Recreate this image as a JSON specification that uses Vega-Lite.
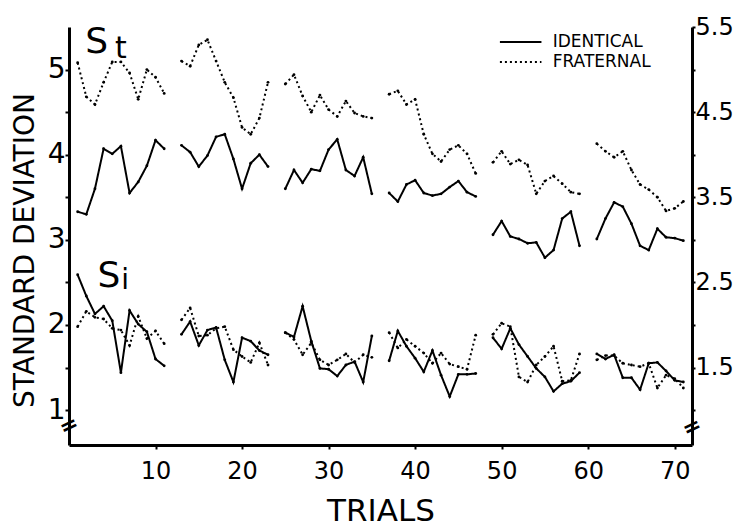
{
"$schema": "https://vega.github.io/schema/vega-lite/v6.json",
"width": 623, "height": 418,
"autosize": "none",
"padding": {"left": 69, "top": 27, "right": 44, "bottom": 81},
"background": "white",
"config": {"view": {"stroke": null}, "font": "DejaVu Sans",
 "axis": {"grid": false, "domainColor": "black", "domainWidth": 3, "tickColor": "black", "tickWidth": 2, "labelColor": "black", "titleColor": "black", "labelFont": "DejaVu Sans", "titleFont": "DejaVu Sans", "titleFontWeight": "normal"}},
"datasets": {"d": [
{"t":1,"b":1,"m":"St","g":"IDENTICAL","v":3.33},{"t":2,"b":1,"m":"St","g":"IDENTICAL","v":3.30},{"t":3,"b":1,"m":"St","g":"IDENTICAL","v":3.60},{"t":4,"b":1,"m":"St","g":"IDENTICAL","v":4.07},{"t":5,"b":1,"m":"St","g":"IDENTICAL","v":4.01},{"t":6,"b":1,"m":"St","g":"IDENTICAL","v":4.10},{"t":7,"b":1,"m":"St","g":"IDENTICAL","v":3.55},{"t":8,"b":1,"m":"St","g":"IDENTICAL","v":3.68},{"t":9,"b":1,"m":"St","g":"IDENTICAL","v":3.87},{"t":10,"b":1,"m":"St","g":"IDENTICAL","v":4.17},{"t":11,"b":1,"m":"St","g":"IDENTICAL","v":4.07},
{"t":13,"b":2,"m":"St","g":"IDENTICAL","v":4.11},{"t":14,"b":2,"m":"St","g":"IDENTICAL","v":4.03},{"t":15,"b":2,"m":"St","g":"IDENTICAL","v":3.86},{"t":16,"b":2,"m":"St","g":"IDENTICAL","v":3.99},{"t":17,"b":2,"m":"St","g":"IDENTICAL","v":4.21},{"t":18,"b":2,"m":"St","g":"IDENTICAL","v":4.24},{"t":19,"b":2,"m":"St","g":"IDENTICAL","v":3.95},{"t":20,"b":2,"m":"St","g":"IDENTICAL","v":3.60},{"t":21,"b":2,"m":"St","g":"IDENTICAL","v":3.90},{"t":22,"b":2,"m":"St","g":"IDENTICAL","v":4.00},{"t":23,"b":2,"m":"St","g":"IDENTICAL","v":3.86},
{"t":25,"b":3,"m":"St","g":"IDENTICAL","v":3.60},{"t":26,"b":3,"m":"St","g":"IDENTICAL","v":3.82},{"t":27,"b":3,"m":"St","g":"IDENTICAL","v":3.67},{"t":28,"b":3,"m":"St","g":"IDENTICAL","v":3.83},{"t":29,"b":3,"m":"St","g":"IDENTICAL","v":3.81},{"t":30,"b":3,"m":"St","g":"IDENTICAL","v":4.06},{"t":31,"b":3,"m":"St","g":"IDENTICAL","v":4.18},{"t":32,"b":3,"m":"St","g":"IDENTICAL","v":3.82},{"t":33,"b":3,"m":"St","g":"IDENTICAL","v":3.75},{"t":34,"b":3,"m":"St","g":"IDENTICAL","v":3.97},{"t":35,"b":3,"m":"St","g":"IDENTICAL","v":3.54},
{"t":37,"b":4,"m":"St","g":"IDENTICAL","v":3.55},{"t":38,"b":4,"m":"St","g":"IDENTICAL","v":3.45},{"t":39,"b":4,"m":"St","g":"IDENTICAL","v":3.65},{"t":40,"b":4,"m":"St","g":"IDENTICAL","v":3.70},{"t":41,"b":4,"m":"St","g":"IDENTICAL","v":3.55},{"t":42,"b":4,"m":"St","g":"IDENTICAL","v":3.52},{"t":43,"b":4,"m":"St","g":"IDENTICAL","v":3.54},{"t":44,"b":4,"m":"St","g":"IDENTICAL","v":3.62},{"t":45,"b":4,"m":"St","g":"IDENTICAL","v":3.69},{"t":46,"b":4,"m":"St","g":"IDENTICAL","v":3.56},{"t":47,"b":4,"m":"St","g":"IDENTICAL","v":3.51},
{"t":49,"b":5,"m":"St","g":"IDENTICAL","v":3.06},{"t":50,"b":5,"m":"St","g":"IDENTICAL","v":3.22},{"t":51,"b":5,"m":"St","g":"IDENTICAL","v":3.04},{"t":52,"b":5,"m":"St","g":"IDENTICAL","v":3.01},{"t":53,"b":5,"m":"St","g":"IDENTICAL","v":2.96},{"t":54,"b":5,"m":"St","g":"IDENTICAL","v":2.97},{"t":55,"b":5,"m":"St","g":"IDENTICAL","v":2.79},{"t":56,"b":5,"m":"St","g":"IDENTICAL","v":2.88},{"t":57,"b":5,"m":"St","g":"IDENTICAL","v":3.25},{"t":58,"b":5,"m":"St","g":"IDENTICAL","v":3.33},{"t":59,"b":5,"m":"St","g":"IDENTICAL","v":2.93},
{"t":61,"b":6,"m":"St","g":"IDENTICAL","v":3.01},{"t":62,"b":6,"m":"St","g":"IDENTICAL","v":3.25},{"t":63,"b":6,"m":"St","g":"IDENTICAL","v":3.44},{"t":64,"b":6,"m":"St","g":"IDENTICAL","v":3.39},{"t":65,"b":6,"m":"St","g":"IDENTICAL","v":3.19},{"t":66,"b":6,"m":"St","g":"IDENTICAL","v":2.93},{"t":67,"b":6,"m":"St","g":"IDENTICAL","v":2.88},{"t":68,"b":6,"m":"St","g":"IDENTICAL","v":3.13},{"t":69,"b":6,"m":"St","g":"IDENTICAL","v":3.03},{"t":70,"b":6,"m":"St","g":"IDENTICAL","v":3.02},{"t":71,"b":6,"m":"St","g":"IDENTICAL","v":2.99},
{"t":1,"b":1,"m":"St","g":"FRATERNAL","v":5.08},{"t":2,"b":1,"m":"St","g":"FRATERNAL","v":4.68},{"t":3,"b":1,"m":"St","g":"FRATERNAL","v":4.59},{"t":4,"b":1,"m":"St","g":"FRATERNAL","v":4.85},{"t":5,"b":1,"m":"St","g":"FRATERNAL","v":5.09},{"t":6,"b":1,"m":"St","g":"FRATERNAL","v":5.09},{"t":7,"b":1,"m":"St","g":"FRATERNAL","v":4.96},{"t":8,"b":1,"m":"St","g":"FRATERNAL","v":4.65},{"t":9,"b":1,"m":"St","g":"FRATERNAL","v":5.00},{"t":10,"b":1,"m":"St","g":"FRATERNAL","v":4.91},{"t":11,"b":1,"m":"St","g":"FRATERNAL","v":4.72},
{"t":13,"b":2,"m":"St","g":"FRATERNAL","v":5.10},{"t":14,"b":2,"m":"St","g":"FRATERNAL","v":5.04},{"t":15,"b":2,"m":"St","g":"FRATERNAL","v":5.29},{"t":16,"b":2,"m":"St","g":"FRATERNAL","v":5.35},{"t":17,"b":2,"m":"St","g":"FRATERNAL","v":5.10},{"t":18,"b":2,"m":"St","g":"FRATERNAL","v":4.85},{"t":19,"b":2,"m":"St","g":"FRATERNAL","v":4.67},{"t":20,"b":2,"m":"St","g":"FRATERNAL","v":4.32},{"t":21,"b":2,"m":"St","g":"FRATERNAL","v":4.24},{"t":22,"b":2,"m":"St","g":"FRATERNAL","v":4.43},{"t":23,"b":2,"m":"St","g":"FRATERNAL","v":4.85},
{"t":25,"b":3,"m":"St","g":"FRATERNAL","v":4.83},{"t":26,"b":3,"m":"St","g":"FRATERNAL","v":4.94},{"t":27,"b":3,"m":"St","g":"FRATERNAL","v":4.69},{"t":28,"b":3,"m":"St","g":"FRATERNAL","v":4.50},{"t":29,"b":3,"m":"St","g":"FRATERNAL","v":4.70},{"t":30,"b":3,"m":"St","g":"FRATERNAL","v":4.53},{"t":31,"b":3,"m":"St","g":"FRATERNAL","v":4.45},{"t":32,"b":3,"m":"St","g":"FRATERNAL","v":4.63},{"t":33,"b":3,"m":"St","g":"FRATERNAL","v":4.49},{"t":34,"b":3,"m":"St","g":"FRATERNAL","v":4.45},{"t":35,"b":3,"m":"St","g":"FRATERNAL","v":4.43},
{"t":37,"b":4,"m":"St","g":"FRATERNAL","v":4.71},{"t":38,"b":4,"m":"St","g":"FRATERNAL","v":4.75},{"t":39,"b":4,"m":"St","g":"FRATERNAL","v":4.59},{"t":40,"b":4,"m":"St","g":"FRATERNAL","v":4.65},{"t":41,"b":4,"m":"St","g":"FRATERNAL","v":4.24},{"t":42,"b":4,"m":"St","g":"FRATERNAL","v":4.01},{"t":43,"b":4,"m":"St","g":"FRATERNAL","v":3.92},{"t":44,"b":4,"m":"St","g":"FRATERNAL","v":4.06},{"t":45,"b":4,"m":"St","g":"FRATERNAL","v":4.11},{"t":46,"b":4,"m":"St","g":"FRATERNAL","v":4.01},{"t":47,"b":4,"m":"St","g":"FRATERNAL","v":3.78},
{"t":49,"b":5,"m":"St","g":"FRATERNAL","v":3.91},{"t":50,"b":5,"m":"St","g":"FRATERNAL","v":4.04},{"t":51,"b":5,"m":"St","g":"FRATERNAL","v":3.89},{"t":52,"b":5,"m":"St","g":"FRATERNAL","v":3.94},{"t":53,"b":5,"m":"St","g":"FRATERNAL","v":3.88},{"t":54,"b":5,"m":"St","g":"FRATERNAL","v":3.54},{"t":55,"b":5,"m":"St","g":"FRATERNAL","v":3.69},{"t":56,"b":5,"m":"St","g":"FRATERNAL","v":3.75},{"t":57,"b":5,"m":"St","g":"FRATERNAL","v":3.66},{"t":58,"b":5,"m":"St","g":"FRATERNAL","v":3.56},{"t":59,"b":5,"m":"St","g":"FRATERNAL","v":3.54},
{"t":61,"b":6,"m":"St","g":"FRATERNAL","v":4.13},{"t":62,"b":6,"m":"St","g":"FRATERNAL","v":4.04},{"t":63,"b":6,"m":"St","g":"FRATERNAL","v":3.97},{"t":64,"b":6,"m":"St","g":"FRATERNAL","v":4.04},{"t":65,"b":6,"m":"St","g":"FRATERNAL","v":3.82},{"t":66,"b":6,"m":"St","g":"FRATERNAL","v":3.65},{"t":67,"b":6,"m":"St","g":"FRATERNAL","v":3.59},{"t":68,"b":6,"m":"St","g":"FRATERNAL","v":3.50},{"t":69,"b":6,"m":"St","g":"FRATERNAL","v":3.34},{"t":70,"b":6,"m":"St","g":"FRATERNAL","v":3.37},{"t":71,"b":6,"m":"St","g":"FRATERNAL","v":3.45},
{"t":1,"b":1,"m":"Si","g":"IDENTICAL","v":2.59},{"t":2,"b":1,"m":"Si","g":"IDENTICAL","v":2.34},{"t":3,"b":1,"m":"Si","g":"IDENTICAL","v":2.13},{"t":4,"b":1,"m":"Si","g":"IDENTICAL","v":2.22},{"t":5,"b":1,"m":"Si","g":"IDENTICAL","v":2.05},{"t":6,"b":1,"m":"Si","g":"IDENTICAL","v":1.44},{"t":7,"b":1,"m":"Si","g":"IDENTICAL","v":2.17},{"t":8,"b":1,"m":"Si","g":"IDENTICAL","v":2.01},{"t":9,"b":1,"m":"Si","g":"IDENTICAL","v":1.92},{"t":10,"b":1,"m":"Si","g":"IDENTICAL","v":1.60},{"t":11,"b":1,"m":"Si","g":"IDENTICAL","v":1.52},
{"t":13,"b":2,"m":"Si","g":"IDENTICAL","v":1.89},{"t":14,"b":2,"m":"Si","g":"IDENTICAL","v":2.04},{"t":15,"b":2,"m":"Si","g":"IDENTICAL","v":1.76},{"t":16,"b":2,"m":"Si","g":"IDENTICAL","v":1.94},{"t":17,"b":2,"m":"Si","g":"IDENTICAL","v":1.97},{"t":18,"b":2,"m":"Si","g":"IDENTICAL","v":1.59},{"t":19,"b":2,"m":"Si","g":"IDENTICAL","v":1.33},{"t":20,"b":2,"m":"Si","g":"IDENTICAL","v":1.85},{"t":21,"b":2,"m":"Si","g":"IDENTICAL","v":1.81},{"t":22,"b":2,"m":"Si","g":"IDENTICAL","v":1.70},{"t":23,"b":2,"m":"Si","g":"IDENTICAL","v":1.65},
{"t":25,"b":3,"m":"Si","g":"IDENTICAL","v":1.91},{"t":26,"b":3,"m":"Si","g":"IDENTICAL","v":1.86},{"t":27,"b":3,"m":"Si","g":"IDENTICAL","v":2.22},{"t":28,"b":3,"m":"Si","g":"IDENTICAL","v":1.81},{"t":29,"b":3,"m":"Si","g":"IDENTICAL","v":1.49},{"t":30,"b":3,"m":"Si","g":"IDENTICAL","v":1.48},{"t":31,"b":3,"m":"Si","g":"IDENTICAL","v":1.40},{"t":32,"b":3,"m":"Si","g":"IDENTICAL","v":1.53},{"t":33,"b":3,"m":"Si","g":"IDENTICAL","v":1.57},{"t":34,"b":3,"m":"Si","g":"IDENTICAL","v":1.33},{"t":35,"b":3,"m":"Si","g":"IDENTICAL","v":1.87},
{"t":37,"b":4,"m":"Si","g":"IDENTICAL","v":1.58},{"t":38,"b":4,"m":"Si","g":"IDENTICAL","v":1.93},{"t":39,"b":4,"m":"Si","g":"IDENTICAL","v":1.75},{"t":40,"b":4,"m":"Si","g":"IDENTICAL","v":1.61},{"t":41,"b":4,"m":"Si","g":"IDENTICAL","v":1.45},{"t":42,"b":4,"m":"Si","g":"IDENTICAL","v":1.70},{"t":43,"b":4,"m":"Si","g":"IDENTICAL","v":1.41},{"t":44,"b":4,"m":"Si","g":"IDENTICAL","v":1.16},{"t":45,"b":4,"m":"Si","g":"IDENTICAL","v":1.42},{"t":46,"b":4,"m":"Si","g":"IDENTICAL","v":1.42},{"t":47,"b":4,"m":"Si","g":"IDENTICAL","v":1.43},
{"t":49,"b":5,"m":"Si","g":"IDENTICAL","v":1.85},{"t":50,"b":5,"m":"Si","g":"IDENTICAL","v":1.72},{"t":51,"b":5,"m":"Si","g":"IDENTICAL","v":1.96},{"t":52,"b":5,"m":"Si","g":"IDENTICAL","v":1.77},{"t":53,"b":5,"m":"Si","g":"IDENTICAL","v":1.63},{"t":54,"b":5,"m":"Si","g":"IDENTICAL","v":1.49},{"t":55,"b":5,"m":"Si","g":"IDENTICAL","v":1.39},{"t":56,"b":5,"m":"Si","g":"IDENTICAL","v":1.22},{"t":57,"b":5,"m":"Si","g":"IDENTICAL","v":1.31},{"t":58,"b":5,"m":"Si","g":"IDENTICAL","v":1.34},{"t":59,"b":5,"m":"Si","g":"IDENTICAL","v":1.44},
{"t":61,"b":6,"m":"Si","g":"IDENTICAL","v":1.66},{"t":62,"b":6,"m":"Si","g":"IDENTICAL","v":1.60},{"t":63,"b":6,"m":"Si","g":"IDENTICAL","v":1.65},{"t":64,"b":6,"m":"Si","g":"IDENTICAL","v":1.38},{"t":65,"b":6,"m":"Si","g":"IDENTICAL","v":1.38},{"t":66,"b":6,"m":"Si","g":"IDENTICAL","v":1.24},{"t":67,"b":6,"m":"Si","g":"IDENTICAL","v":1.55},{"t":68,"b":6,"m":"Si","g":"IDENTICAL","v":1.56},{"t":69,"b":6,"m":"Si","g":"IDENTICAL","v":1.46},{"t":70,"b":6,"m":"Si","g":"IDENTICAL","v":1.35},{"t":71,"b":6,"m":"Si","g":"IDENTICAL","v":1.33},
{"t":1,"b":1,"m":"Si","g":"FRATERNAL","v":1.98},{"t":2,"b":1,"m":"Si","g":"FRATERNAL","v":2.16},{"t":3,"b":1,"m":"Si","g":"FRATERNAL","v":2.09},{"t":4,"b":1,"m":"Si","g":"FRATERNAL","v":2.07},{"t":5,"b":1,"m":"Si","g":"FRATERNAL","v":1.96},{"t":6,"b":1,"m":"Si","g":"FRATERNAL","v":1.94},{"t":7,"b":1,"m":"Si","g":"FRATERNAL","v":1.76},{"t":8,"b":1,"m":"Si","g":"FRATERNAL","v":2.10},{"t":9,"b":1,"m":"Si","g":"FRATERNAL","v":1.84},{"t":10,"b":1,"m":"Si","g":"FRATERNAL","v":1.93},{"t":11,"b":1,"m":"Si","g":"FRATERNAL","v":1.78},
{"t":13,"b":2,"m":"Si","g":"FRATERNAL","v":2.06},{"t":14,"b":2,"m":"Si","g":"FRATERNAL","v":2.20},{"t":15,"b":2,"m":"Si","g":"FRATERNAL","v":1.87},{"t":16,"b":2,"m":"Si","g":"FRATERNAL","v":1.88},{"t":17,"b":2,"m":"Si","g":"FRATERNAL","v":1.96},{"t":18,"b":2,"m":"Si","g":"FRATERNAL","v":1.98},{"t":19,"b":2,"m":"Si","g":"FRATERNAL","v":1.71},{"t":20,"b":2,"m":"Si","g":"FRATERNAL","v":1.63},{"t":21,"b":2,"m":"Si","g":"FRATERNAL","v":1.56},{"t":22,"b":2,"m":"Si","g":"FRATERNAL","v":1.79},{"t":23,"b":2,"m":"Si","g":"FRATERNAL","v":1.53},
{"t":25,"b":3,"m":"Si","g":"FRATERNAL","v":1.91},{"t":26,"b":3,"m":"Si","g":"FRATERNAL","v":1.83},{"t":27,"b":3,"m":"Si","g":"FRATERNAL","v":1.65},{"t":28,"b":3,"m":"Si","g":"FRATERNAL","v":1.79},{"t":29,"b":3,"m":"Si","g":"FRATERNAL","v":1.59},{"t":30,"b":3,"m":"Si","g":"FRATERNAL","v":1.53},{"t":31,"b":3,"m":"Si","g":"FRATERNAL","v":1.59},{"t":32,"b":3,"m":"Si","g":"FRATERNAL","v":1.66},{"t":33,"b":3,"m":"Si","g":"FRATERNAL","v":1.56},{"t":34,"b":3,"m":"Si","g":"FRATERNAL","v":1.65},{"t":35,"b":3,"m":"Si","g":"FRATERNAL","v":1.62},
{"t":37,"b":4,"m":"Si","g":"FRATERNAL","v":1.91},{"t":38,"b":4,"m":"Si","g":"FRATERNAL","v":1.73},{"t":39,"b":4,"m":"Si","g":"FRATERNAL","v":1.83},{"t":40,"b":4,"m":"Si","g":"FRATERNAL","v":1.75},{"t":41,"b":4,"m":"Si","g":"FRATERNAL","v":1.67},{"t":42,"b":4,"m":"Si","g":"FRATERNAL","v":1.55},{"t":43,"b":4,"m":"Si","g":"FRATERNAL","v":1.67},{"t":44,"b":4,"m":"Si","g":"FRATERNAL","v":1.54},{"t":45,"b":4,"m":"Si","g":"FRATERNAL","v":1.51},{"t":46,"b":4,"m":"Si","g":"FRATERNAL","v":1.48},{"t":47,"b":4,"m":"Si","g":"FRATERNAL","v":1.88},
{"t":49,"b":5,"m":"Si","g":"FRATERNAL","v":1.89},{"t":50,"b":5,"m":"Si","g":"FRATERNAL","v":2.02},{"t":51,"b":5,"m":"Si","g":"FRATERNAL","v":1.98},{"t":52,"b":5,"m":"Si","g":"FRATERNAL","v":1.39},{"t":53,"b":5,"m":"Si","g":"FRATERNAL","v":1.33},{"t":54,"b":5,"m":"Si","g":"FRATERNAL","v":1.53},{"t":55,"b":5,"m":"Si","g":"FRATERNAL","v":1.63},{"t":56,"b":5,"m":"Si","g":"FRATERNAL","v":1.75},{"t":57,"b":5,"m":"Si","g":"FRATERNAL","v":1.34},{"t":58,"b":5,"m":"Si","g":"FRATERNAL","v":1.35},{"t":59,"b":5,"m":"Si","g":"FRATERNAL","v":1.66},
{"t":61,"b":6,"m":"Si","g":"FRATERNAL","v":1.59},{"t":62,"b":6,"m":"Si","g":"FRATERNAL","v":1.64},{"t":63,"b":6,"m":"Si","g":"FRATERNAL","v":1.64},{"t":64,"b":6,"m":"Si","g":"FRATERNAL","v":1.55},{"t":65,"b":6,"m":"Si","g":"FRATERNAL","v":1.53},{"t":66,"b":6,"m":"Si","g":"FRATERNAL","v":1.51},{"t":67,"b":6,"m":"Si","g":"FRATERNAL","v":1.55},{"t":68,"b":6,"m":"Si","g":"FRATERNAL","v":1.26},{"t":69,"b":6,"m":"Si","g":"FRATERNAL","v":1.41},{"t":70,"b":6,"m":"Si","g":"FRATERNAL","v":1.37},{"t":71,"b":6,"m":"Si","g":"FRATERNAL","v":1.26}
]},
"layer": [
 {"data": {"name": "d"},
  "mark": {"type": "line", "color": "black", "strokeWidth": 2},
  "encoding": {
   "x": {"field": "t", "type": "quantitative", "scale": {"domain": [0, 72], "nice": false, "zero": false},
         "axis": {"title": "TRIALS", "values": [10,20,30,40,50,60,70], "labelFontSize": 24, "tickSize": 4, "labelPadding": 10, "titleFontSize": 31, "titleY": 75, "titleBaseline": "alphabetic"}},
   "y": {"field": "v", "type": "quantitative", "scale": {"domain": [0.59, 5.5], "nice": false, "zero": false},
         "axis": {"orient": "left", "title": "STANDARD DEVIATION", "values": [1,1.5,2,2.5,3,3.5,4,4.5,5], "labelExpr": "datum.value % 1 == 0 ? format(datum.value, 'd') : ''", "labelFontSize": 28, "tickSize": 4, "labelPadding": 0, "titleFontSize": 28, "titleAngle": -90, "titleX": -36, "titleY": 223, "titleBaseline": "alphabetic"}},
   "strokeDash": {"field": "g", "type": "nominal", "scale": {"domain": ["IDENTICAL", "FRATERNAL"], "range": [[1, 0], [2, 3]]}, "legend": null},
   "detail": [{"field": "b", "type": "nominal"}, {"field": "m", "type": "nominal"}]
  }},
 {"data": {"name": "d"},
  "mark": {"type": "point", "filled": true, "color": "black", "size": 8, "opacity": 1},
  "encoding": {
   "x": {"field": "t", "type": "quantitative"},
   "y": {"field": "v", "type": "quantitative",
         "axis": {"orient": "right", "title": null, "values": [1,1.5,2,2.5,3,3.5,4,4.5,5,5.5], "labelExpr": "datum.value % 1 != 0 ? datum.label : ''", "labelFontSize": 24, "tickSize": 3, "labelPadding": 0}}
  }},
 {"data": {"values": [{}]}, "mark": {"type": "rule", "color": "black", "strokeWidth": 2},
  "encoding": {"x": {"datum": 49.8, "type": "quantitative"}, "x2": {"datum": 54.6}, "y": {"datum": 5.324, "type": "quantitative", "axis": null}}},
 {"data": {"values": [{}]}, "mark": {"type": "rule", "color": "black", "strokeWidth": 2, "strokeDash": [2, 3]},
  "encoding": {"x": {"datum": 49.8, "type": "quantitative"}, "x2": {"datum": 54.6}, "y": {"datum": 5.089, "type": "quantitative", "axis": null}}},
 {"data": {"values": [{}]}, "mark": {"type": "text", "text": "IDENTICAL", "fontSize": 17, "align": "left", "baseline": "middle", "color": "black"},
  "encoding": {"x": {"datum": 55.9, "type": "quantitative"}, "y": {"datum": 5.324, "type": "quantitative", "axis": null}}},
 {"data": {"values": [{}]}, "mark": {"type": "text", "text": "FRATERNAL", "fontSize": 17, "align": "left", "baseline": "middle", "color": "black"},
  "encoding": {"x": {"datum": 55.9, "type": "quantitative"}, "y": {"datum": 5.089, "type": "quantitative", "axis": null}}},
 {"data": {"values": [{}]}, "mark": {"type": "text", "text": "S", "fontSize": 36, "align": "center", "baseline": "alphabetic", "color": "black"},
  "encoding": {"x": {"datum": 3.2, "type": "quantitative"}, "y": {"datum": 5.19, "type": "quantitative", "axis": null}}},
 {"data": {"values": [{}]}, "mark": {"type": "text", "text": "t", "fontSize": 30, "align": "center", "baseline": "alphabetic", "color": "black"},
  "encoding": {"x": {"datum": 6.0, "type": "quantitative"}, "y": {"datum": 5.13, "type": "quantitative", "axis": null}}},
 {"data": {"values": [{}]}, "mark": {"type": "text", "text": "S", "fontSize": 36, "align": "center", "baseline": "alphabetic", "color": "black"},
  "encoding": {"x": {"datum": 4.6, "type": "quantitative"}, "y": {"datum": 2.45, "type": "quantitative", "axis": null}}},
 {"data": {"values": [{}]}, "mark": {"type": "text", "text": "i", "fontSize": 28, "align": "center", "baseline": "alphabetic", "color": "black"},
  "encoding": {"x": {"datum": 6.5, "type": "quantitative"}, "y": {"datum": 2.42, "type": "quantitative", "axis": null}}},
 {"data": {"values": [{}]}, "mark": {"type": "text", "text": "=", "fontSize": 22, "fontWeight": "bold", "angle": -25, "align": "center", "baseline": "middle", "color": "black"},
  "encoding": {"x": {"datum": 0, "type": "quantitative"}, "y": {"datum": 0.82, "type": "quantitative", "axis": null}}},
 {"data": {"values": [{}]}, "mark": {"type": "text", "text": "=", "fontSize": 22, "fontWeight": "bold", "angle": -25, "align": "center", "baseline": "middle", "color": "black"},
  "encoding": {"x": {"datum": 72, "type": "quantitative"}, "y": {"datum": 0.80, "type": "quantitative", "axis": null}}}
],
"resolve": {"axis": {"y": "independent"}}
}
